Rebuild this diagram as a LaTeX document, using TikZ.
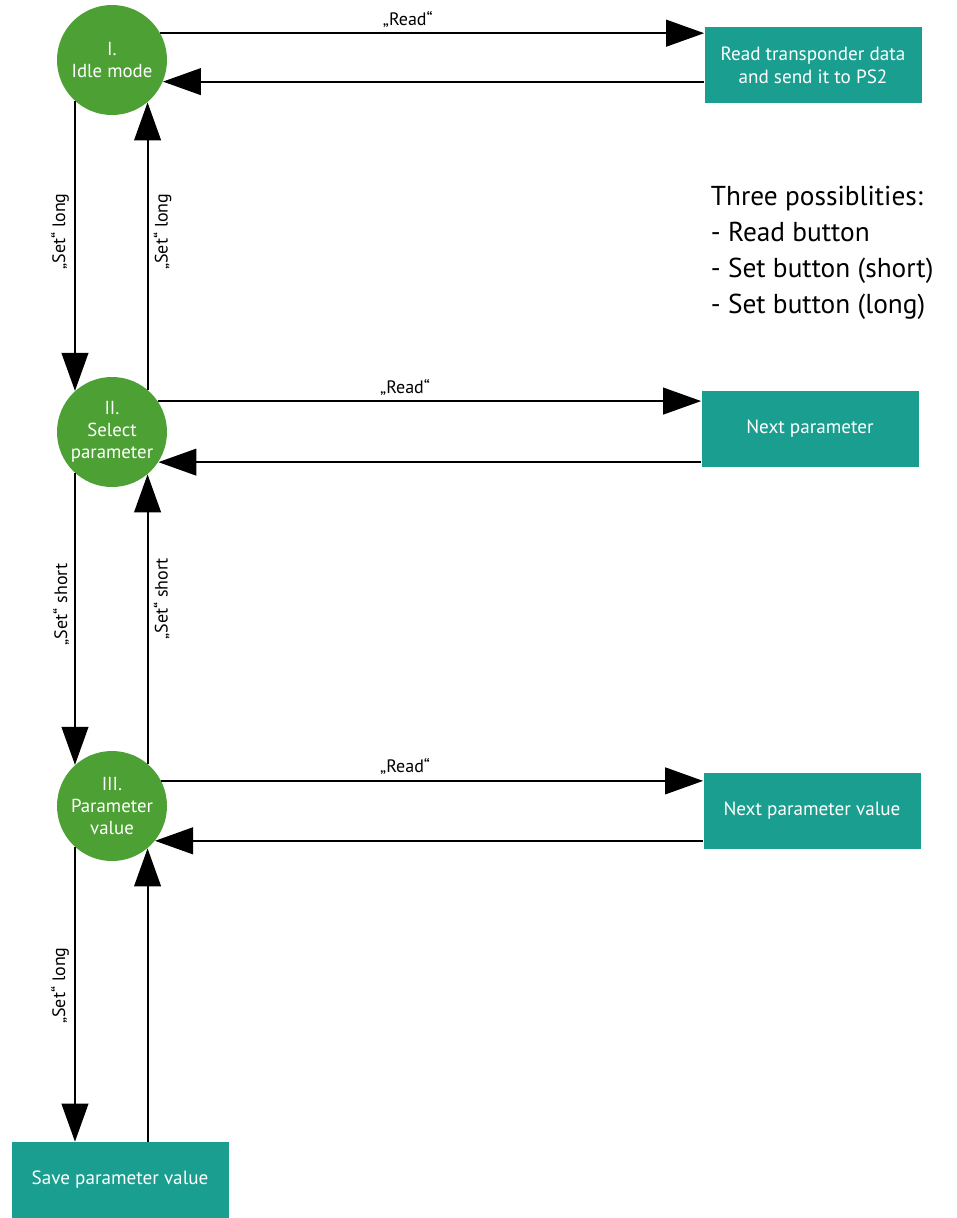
\documentclass[tikz,border=0pt]{standalone}
\usepackage{fontspec}
\setmainfont{PT Sans}
\usetikzlibrary{arrows.meta, positioning, calc}
\definecolor{stategreen}{RGB}{76,160,52}
\definecolor{actionteal}{RGB}{26,158,143}

\begin{document}
\begin{tikzpicture}[x=0.6pt, y=-0.6pt,
    state/.style={circle, fill=stategreen, text=white, minimum size=66pt,
                  inner sep=0pt, align=center, font=\fontsize{11.3}{13.2}\selectfont},
    action/.style={rectangle, fill=actionteal, text=white, minimum width=130.2pt,
                   minimum height=45.6pt, inner sep=2pt, align=center,
                   font=\fontsize{11.5}{14}\selectfont},
    flow/.style={line width=1.2pt, -{Triangle[length=22.8pt, width=16pt]}},
    link/.style={line width=1.2pt},
    lbl/.style={font=\fontsize{10.8}{12}\selectfont, inner sep=3pt}]
    \useasboundingbox (0,0) rectangle (957,1218);

    % ---- STATI ----
    \node[state] (idle)   at (112,60)  {I.\\Idle mode};
    \node[state] (select) at (112,432) {II.\\Select\\parameter};
    \node[state] (value)  at (112,806) {III.\\Parameter\\value};

    % ---- AZIONI ----
    \node[action] (readdata) at (813,65)   {Read transponder data\\and send it to PS2};
    \node[action] (nextpar)  at (810,429)  {Next parameter};
    \node[action] (nextval)  at (812,811)  {Next parameter value};
    \node[action] (save)     at (120,1180) {Save parameter value};

    % ---- NOTE ----
    \node[anchor=north west, align=left, font=\fontsize{16.4}{21.6}\selectfont]
        (note) at (705,180) {Three possiblities:\\- Read button\\- Set button (short)\\- Set button (long)};

    % ---- RIGA 1 ----
    \draw[flow] (idle.29.4) -- (idle.29.4 -| readdata.west)
        node[lbl, pos=0.455, above] (read1) {„Read“};
    \draw[flow] (idle.-23.6 -| readdata.west) -- (idle.-23.6);

    % ---- RIGA 2 ----
    \draw[flow] (select.34.3) -- (select.34.3 -| nextpar.west)
        node[lbl, pos=0.455, above] (read2) {„Read“};
    \draw[flow] (select.-33 -| nextpar.west) -- (select.-33);

    % ---- RIGA 3 ----
    \draw[flow] (value.27) -- (value.27 -| nextval.west)
        node[lbl, pos=0.45, above] (read3) {„Read“};
    \draw[flow] (value.-39.5 -| nextval.west) -- (value.-39.5);

    % ---- VERTICALI ----
    \draw[flow] (idle.-132.3) -- (select.132.3)
        node[lbl, pos=0.45, rotate=90, anchor=south] (setl1) {„Set“ long};
    \draw[flow] (select.50.5) -- (idle.-50.5)
        node[lbl, pos=0.55, rotate=90, anchor=north] (setl2) {„Set“ long};
    \draw[flow] (select.-132.3) -- (value.132.3)
        node[lbl, pos=0.45, rotate=90, anchor=south] (sets1) {„Set“ short};
    \draw[flow] (value.50.5) -- (select.-50.5)
        node[lbl, pos=0.57, rotate=90, anchor=north] (sets2) {„Set“ short};
    \draw[flow] (value.-132.3) -- (value.-132.3 |- save.north)
        node[lbl, pos=0.47, rotate=90, anchor=south] (setl3) {„Set“ long};
    \draw[flow] (value.-50.5 |- save.north) -- (value.-50.5);
\end{tikzpicture}
\end{document}
